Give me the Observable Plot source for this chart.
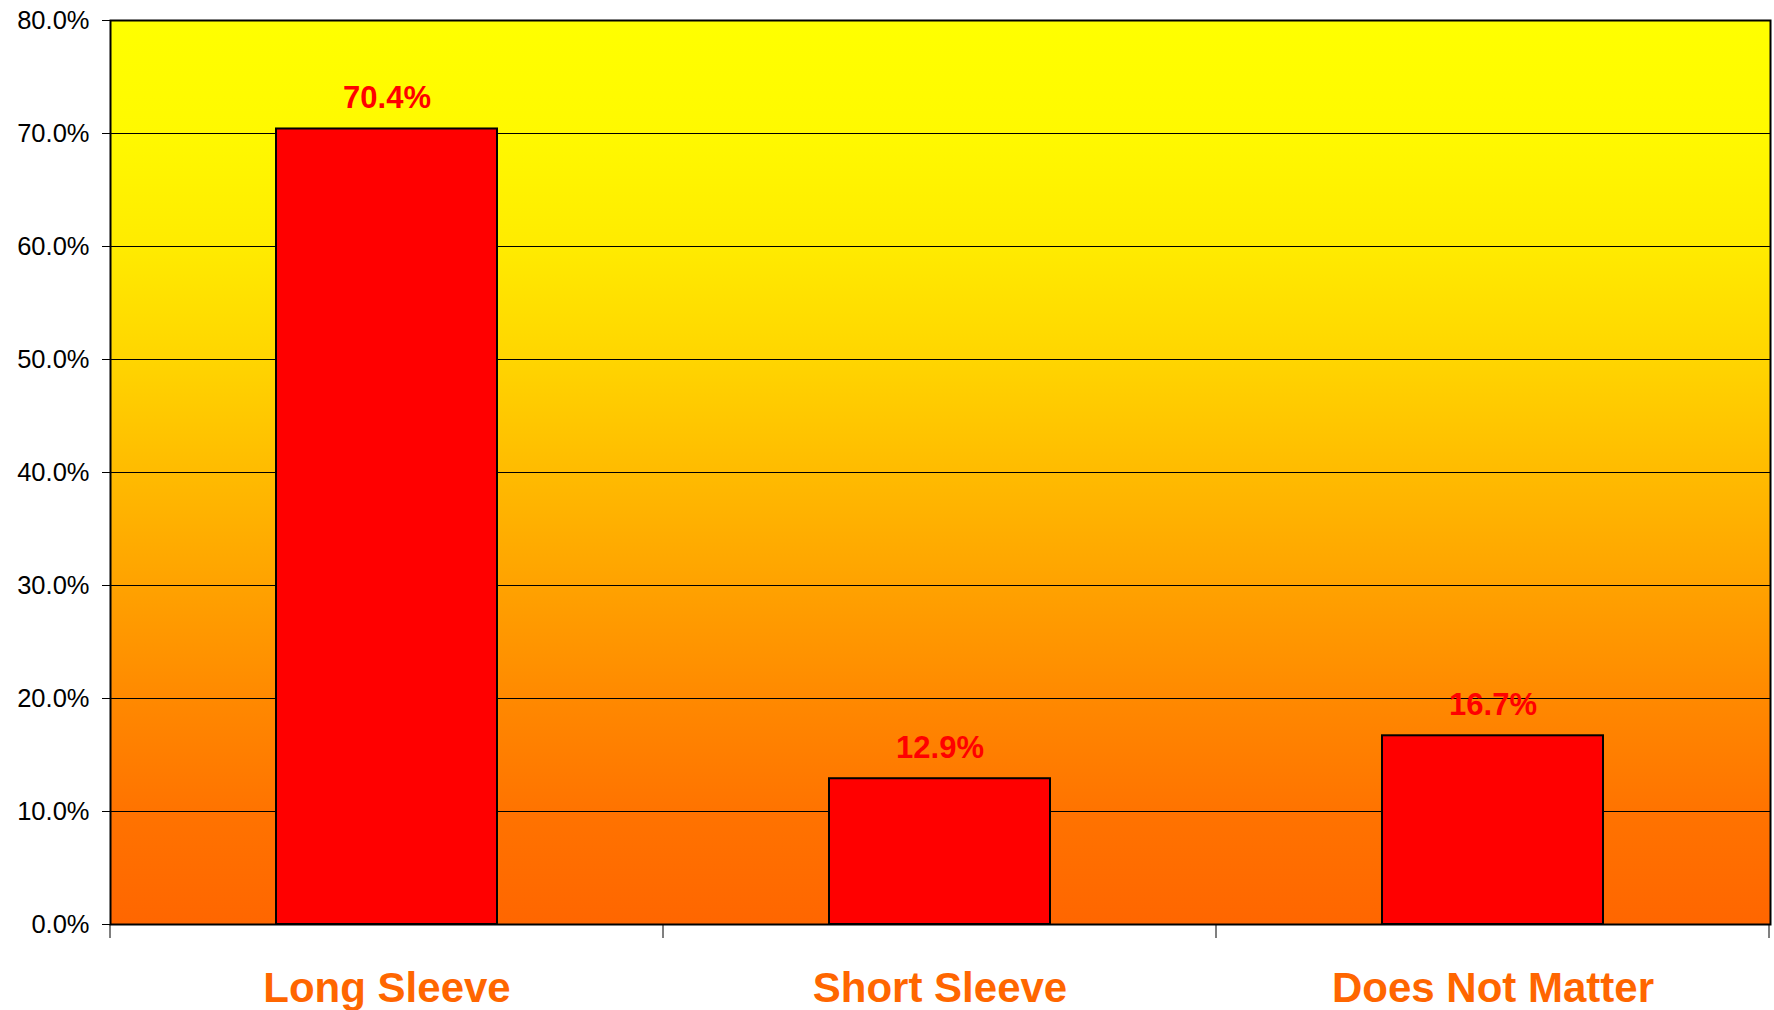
<!DOCTYPE html>
<html><head><meta charset="utf-8">
<script src="https://cdn.jsdelivr.net/npm/d3@7"></script>
<script src="https://cdn.jsdelivr.net/npm/@observablehq/plot@0.6"></script>
<style>html,body{margin:0;padding:0;background:#fff;} svg{display:block}</style>
</head><body><div id="chart"></div>
<script>
const categories = ["Long Sleeve", "Short Sleeve", "Does Not Matter"];
const values = [70.4, 12.9, 16.7];
const yTicks = [0, 10, 20, 30, 40, 50, 60, 70, 80];
const data = categories.map((c, i) => ({category: c, value: values[i]}));
const pct = d => d.toFixed(1) + "%";

const gradientStops = [
  ["0%", "#FFFF00"], ["12.5%", "#FFF900"], ["25%", "#FFEB00"], ["37.5%", "#FFD500"],
  ["50%", "#FFBB00"], ["62.5%", "#FFA200"], ["75%", "#FF8900"], ["87.5%", "#FF7300"], ["100%", "#FF6600"]
];

const gradientDefs = () => {
  const defs = d3.create("svg:defs");
  const g = defs.append("linearGradient").attr("id", "bg")
    .attr("x1", 0).attr("y1", 0).attr("x2", 0).attr("y2", 1);
  for (const [o, c] of gradientStops) g.append("stop").attr("offset", o).attr("stop-color", c);
  return defs.node();
};

const categoryTicks = (index, scales, vals, dimensions) => {
  const x = scales.x;
  const step = x.step(), bw = x.bandwidth();
  const pos = categories.map(c => x(c) - (step - bw) / 2);
  pos.push(pos[pos.length - 1] + step);
  const y0 = dimensions.height - dimensions.marginBottom;
  const g = d3.create("svg:g").attr("stroke", "#000").attr("stroke-width", 1);
  for (const p of pos) g.append("line").attr("x1", p).attr("x2", p).attr("y1", y0).attr("y2", y0 + 14);
  return g.node();
};

const chart = Plot.plot({
  width: 1774,
  height: 1010,
  marginLeft: 110,
  marginRight: 4,
  marginTop: 20,
  marginBottom: 86,
  style: {fontFamily: "'Liberation Sans', Arial, sans-serif", background: "#fff", overflow: "visible"},
  x: {domain: categories, paddingInner: 0.6, paddingOuter: 0.3, label: null},
  y: {domain: [0, 80], label: null},
  marks: [
    gradientDefs,
    Plot.frame({fill: "url(#bg)", stroke: "none"}),
    Plot.gridY(yTicks, {stroke: "#000", strokeOpacity: 1, strokeWidth: 1}),
    Plot.barY(data, {x: "category", y: "value", fill: "#FF0000", stroke: "#000", strokeWidth: 2}),
    Plot.text(data, {x: "category", y: "value", text: d => pct(d.value), dy: -21, lineAnchor: "bottom",
      fill: "#FF0000", fontSize: 31, fontWeight: "bold"}),
    Plot.frame({stroke: "#000", strokeWidth: 2}),
    Plot.axisY({ticks: yTicks, tickFormat: pct, tickSize: 8, tickPadding: 13, fontSize: 25.5,
      stroke: "#000", fill: "#000", label: null}),
    Plot.axisX({tickSize: 0, tickPadding: 48, fontSize: 42, fontWeight: "bold", fill: "#FF6600", label: null}),
    categoryTicks
  ]
});
document.getElementById("chart").appendChild(chart);
</script>
</body></html>
